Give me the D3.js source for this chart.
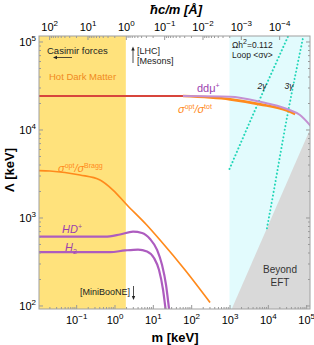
<!DOCTYPE html>
<html>
<head>
<meta charset="utf-8">
<script src="https://cdn.jsdelivr.net/npm/d3@7"></script>
<style>
body { margin: 0; background: #fff; }
svg { font-family: "Liberation Sans", Arial, sans-serif; }
</style>
</head>
<body>
<script>
// all masses and scales in keV
const redM = [0.0107, 61]
const redL = [24000, 24000]
const ddmuM = [61, 1040, 6300, 31600, 69000, 130000]
const ddmuL = [24000, 23600, 20700, 17100, 14600, 11000]
const totM = [61, 1040, 6300, 31600, 51600]
const totL = [24000, 22000, 19300, 16400, 15000]
const braggM = [0.0107, 0.0207, 0.126, 0.418, 0.912, 2.12, 6.93, 15.4, 69.3, 311]
const braggL = [3404, 3373, 3041, 2667, 2051, 1387, 822, 555, 253, 108]
const hdM = [0.0107, 0.565, 1.39, 3.04, 5.22, 8.45, 12.9, 17.4, 22.1, 26.5, 27.5]
const hdL = [605, 605, 641, 690, 667, 570, 428, 288, 171, 91.2, 80]
const h2M = [0.0107, 0.764, 1.88, 4.11, 7.06, 10.7, 14.5, 18.5, 21.5, 22.5]
const h2L = [403, 403, 422, 432, 411, 347, 253, 150, 91.2, 80]
const g2M = [1000, 4660, 33900]
const g2L = [3560, 16700, 115000]
const g3M = [9460, 10400, 34500, 84700]
const g3L = [754, 938, 16700, 115500]
const eftM = [1150, 130000, 130000]
const eftL = [91.5, 10300, 80]
const hotEdge = 1.973   // m where hbar c / m = 1 Angstrom
const relicEdge = 1000
const xTicks = [1e-1, 1, 10, 100, 1e3, 1e4, 1e5]
const yTicks = [1e2, 1e3, 1e4, 1e5]
const topTicks = [1e2, 1e1, 1, 1e-1, 1e-2, 1e-3, 1e-4]
const hbarc = 1.97327  // keV * Angstrom

const W = 314, H = 345
const pL = 39, pR = 310, pT = 36, pB = 309

const x = d3.scaleLog().domain([10 ** -1.97, 10 ** 5.1]).range([pL, pR])
const y = d3.scaleLog().domain([10 ** 1.96, 10 ** 5.0625]).range([pB, pT])
const xTop = d3.scaleLog().domain([hbarc / 10 ** -1.97, hbarc / 10 ** 5.1]).range([pL, pR])

const svg = d3.select("body").append("svg").attr("width", W).attr("height", H)

svg.append("defs").append("clipPath").attr("id", "clip")
    .append("rect").attr("x", pL).attr("y", pT).attr("width", pR - pL).attr("height", pB - pT)

const plot = svg.append("g").attr("clip-path", "url(#clip)")

plot.append("rect")
    .attr("x", pL).attr("y", pT)
    .attr("width", x(hotEdge) - pL).attr("height", pB - pT)
    .attr("fill", "#ffe27c")
plot.append("rect")
    .attr("x", x(relicEdge)).attr("y", pT)
    .attr("width", pR - x(relicEdge)).attr("height", pB - pT)
    .attr("fill", "#e2fbfd")

const pts = (ms, ls) => ms.map((m, i) => [x(m), y(ls[i])])

plot.append("path")
    .attr("d", "M" + pts(eftM, eftL).join("L") + "Z")
    .attr("fill", "#d9d9d9")

const line = d3.line().curve(d3.curveMonotoneX)

function curve(ms, ls, color, width, dash) {
    const p = plot.append("path")
        .attr("d", line(pts(ms, ls)))
        .attr("fill", "none")
        .attr("stroke", color)
        .attr("stroke-width", width)
    if (dash) p.attr("stroke-dasharray", dash).attr("stroke-linecap", "round")
}

curve(g2M, g2L, "#22d6b8", 2, "0.1,3.6")
curve(g3M, g3L, "#22d6b8", 2, "0.1,3.6")
curve(braggM, braggL, "#ff8a1c", 1.7)
curve(hdM, hdL, "#ad5cbf", 2.2)
curve(h2M, h2L, "#ad5cbf", 2.2)
curve(totM, totL, "#ff8a1c", 2.6)
curve(ddmuM, ddmuL, "#c490d2", 2)
curve(redM, redL, "#d8453c", 2)

// frame ticks
function minorTicks(lo, hi) {
    const out = []
    for (let e = -3; e <= 5; e++)
        for (let k = 2; k <= 9; k++) {
            const v = k * 10 ** e
            if (v > lo && v < hi) out.push(v)
        }
    return out
}

function sup(sel, anchor) {
    sel.each(function (d) {
        const t = d3.select(this).text("").attr("text-anchor", anchor)
        const e = Math.round(Math.log10(d))
        t.append("tspan").text("10")
        t.append("tspan").attr("dy", "-5px").attr("font-size", "8px")
            .text(e < 0 ? "\u2212" + (-e) : e)
    })
}

function styleAxis(g) {
    g.select(".domain").remove()
    g.selectAll(".tick line").attr("stroke", "#999")
    g.selectAll(".tick text").attr("fill", "#000").attr("font-size", "11px")
}

const xs = x.domain(), ys = y.domain(), ts = xTop.domain()

svg.append("g").attr("transform", `translate(0,${pB})`)
    .call(d3.axisBottom(x).tickValues(xTicks).tickSize(-4).tickPadding(7))
    .call(styleAxis).call(g => sup(g.selectAll(".tick text"), "middle"))
svg.append("g").attr("transform", `translate(0,${pB})`)
    .call(d3.axisBottom(x).tickValues(minorTicks(xs[0], xs[1])).tickSize(-2).tickFormat(""))
    .call(styleAxis)

svg.append("g").attr("transform", `translate(0,${pT})`)
    .call(d3.axisTop(xTop).tickValues(topTicks).tickSize(-4).tickPadding(5))
    .call(styleAxis).call(g => sup(g.selectAll(".tick text"), "middle"))
svg.append("g").attr("transform", `translate(0,${pT})`)
    .call(d3.axisTop(xTop).tickValues(minorTicks(ts[1], ts[0])).tickSize(-2).tickFormat(""))
    .call(styleAxis)

svg.append("g").attr("transform", `translate(${pL},0)`)
    .call(d3.axisLeft(y).tickValues(yTicks).tickSize(-4).tickPadding(3))
    .call(styleAxis).call(g => sup(g.selectAll(".tick text"), "end"))
svg.append("g").attr("transform", `translate(${pL},0)`)
    .call(d3.axisLeft(y).tickValues(minorTicks(ys[0], ys[1])).tickSize(-2).tickFormat(""))
    .call(styleAxis)

svg.append("g").attr("transform", `translate(${pR},0)`)
    .call(d3.axisRight(y).tickValues(yTicks).tickSize(-4).tickFormat(""))
    .call(styleAxis)
svg.append("g").attr("transform", `translate(${pR},0)`)
    .call(d3.axisRight(y).tickValues(minorTicks(ys[0], ys[1])).tickSize(-2).tickFormat(""))
    .call(styleAxis)

svg.append("rect")
    .attr("x", pL).attr("y", pT).attr("width", pR - pL).attr("height", pB - pT)
    .attr("fill", "none").attr("stroke", "#a0a0a0").attr("stroke-width", 1)

// axis titles
svg.append("text").attr("x", 175).attr("y", 342).attr("text-anchor", "middle")
    .attr("font-size", "13px").attr("font-weight", "bold").text("m [keV]")
svg.append("text").attr("x", 176).attr("y", 14).attr("text-anchor", "middle")
    .attr("font-size", "13px").attr("font-weight", "bold").attr("font-style", "italic")
    .text("\u0127c/m [\u00c5]")
svg.append("text").attr("transform", "translate(14,170) rotate(-90)").attr("text-anchor", "middle")
    .attr("font-size", "13px").attr("font-weight", "bold").text("\u039b [keV]")

// annotations; parts: [text, kind] with kind sup / sub / back (return to baseline)
function label(tx, ty, parts, opts) {
    const t = svg.append("text").attr("x", tx).attr("y", ty)
        .attr("font-size", opts.size || "10px").attr("fill", opts.color || "#222")
        .attr("text-anchor", opts.anchor || "start")
    if (opts.italic) t.attr("font-style", "italic")
    parts.forEach(p => {
        const s = t.append("tspan").text(p[0])
        if (p[1] === "sup") s.attr("dy", "-4px").attr("font-size", "7px").attr("font-style", "normal")
        if (p[1] === "sub") s.attr("dy", "3px").attr("font-size", "7px").attr("font-style", "normal")
        if (p[1] === "back") s.attr("dy", "4px")
    })
    return t
}

label(47, 54, [["Casimir forces"]], { size: "9.5px" })
svg.append("line").attr("x1", 72).attr("x2", 55).attr("y1", 57.5).attr("y2", 57.5)
    .attr("stroke", "#222").attr("stroke-width", 0.8)
svg.append("path").attr("d", "M53,57.5L57,55.8L57,59.2Z").attr("fill", "#222")

label(49, 80, [["Hot Dark Matter"]], { size: "9.5px", color: "#f08a20" })

svg.append("line").attr("x1", 133).attr("x2", 133).attr("y1", 63).attr("y2", 49)
    .attr("stroke", "#222").attr("stroke-width", 0.8)
svg.append("path").attr("d", "M133,46.5L131.3,50.5L134.7,50.5Z").attr("fill", "#222")
label(137, 54, [["[LHC]"]], { size: "9px" })
label(137, 64, [["[Mesons]"]], { size: "9px" })

label(130, 295, [["[MiniBooNE]"]], { size: "9px", anchor: "end" })
svg.append("line").attr("x1", 133.5).attr("x2", 133.5).attr("y1", 286).attr("y2", 297)
    .attr("stroke", "#222").attr("stroke-width", 0.8)
svg.append("path").attr("d", "M133.5,300L131.8,296L135.2,296Z").attr("fill", "#222")

label(232, 48, [["\u03a9h"], ["2", "sup"], ["=0.112", "back"]], { size: "8.5px" })
label(232, 58, [["Loop <\u03c3v>"]], { size: "8.5px" })

label(262, 89, [["2\u03b3"]], { size: "8.5px", anchor: "middle", italic: true })
label(289, 89, [["3\u03b3"]], { size: "8.5px", anchor: "middle", italic: true })

label(280, 273, [["Beyond"]], { size: "10px", anchor: "middle", color: "#333" })
label(280, 286, [["EFT"]], { size: "10px", anchor: "middle", color: "#333" })

label(197, 92, [["dd\u03bc"], ["+", "sup"]], { size: "11px", color: "#9b3fae" })
label(178, 113, [["\u03c3"], ["opt", "sup"], ["/\u03c3", "back"], ["tot", "sup"]],
    { size: "11px", color: "#ff8a1c", italic: true })
label(58, 172, [["\u03c3"], ["opt", "sup"], ["/\u03c3", "back"], ["Bragg", "sup"]],
    { size: "11px", color: "#ff8a1c", italic: true })
label(62, 233, [["HD"], ["+", "sup"]], { size: "11px", color: "#9b3fae", italic: true })
label(65, 251, [["H"], ["2", "sub"]], { size: "11px", color: "#9b3fae", italic: true })
</script>
</body>
</html>
